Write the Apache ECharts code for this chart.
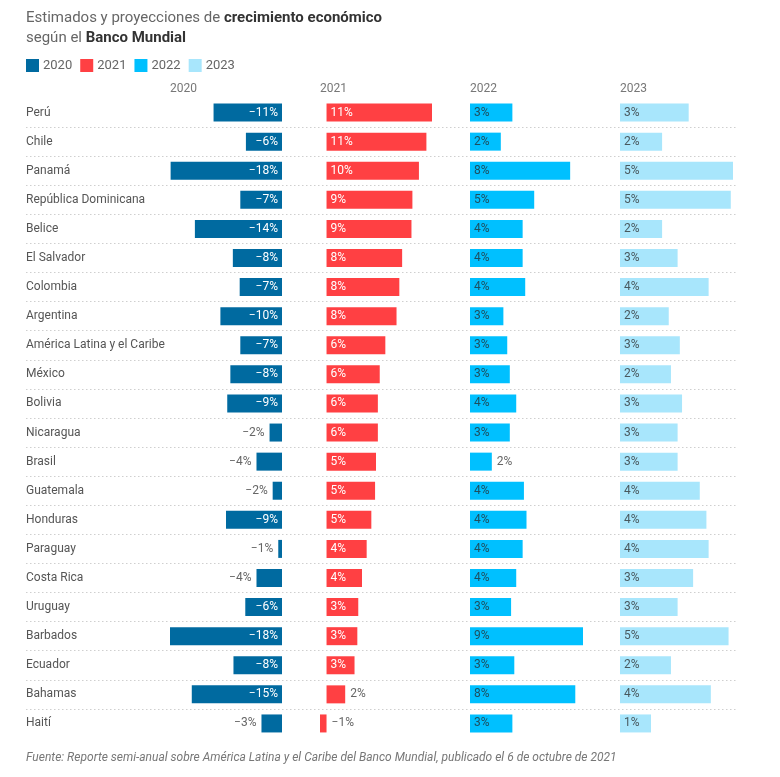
<!DOCTYPE html>
<html>
<head>
<meta charset="utf-8">
<title>Crecimiento económico - Banco Mundial</title>
<script src="https://cdn.jsdelivr.net/npm/echarts@6/dist/echarts.min.js"></script>
<style>
  html, body { margin: 0; padding: 0; background: #fff; }
  #chart-container { width: 780px; height: 777px; }
</style>
</head>
<body>
<div id="chart-container"></div>
<script>
// ---- data ----
var countries = ['Perú', 'Chile', 'Panamá', 'República Dominicana', 'Belice', 'El Salvador',
  'Colombia', 'Argentina', 'América Latina y el Caribe', 'México', 'Bolivia', 'Nicaragua',
  'Brasil', 'Guatemala', 'Honduras', 'Paraguay', 'Costa Rica', 'Uruguay', 'Barbados',
  'Ecuador', 'Bahamas', 'Haití'];
var years = ['2020', '2021', '2022', '2023'];
var growth2020 = [-11.0, -5.8, -17.9, -6.7, -14.0, -7.9, -6.8, -9.9, -6.7, -8.3, -8.8, -2.0,
  -4.1, -1.5, -9.0, -0.6, -4.1, -5.9, -18.0, -7.8, -14.5, -3.3];
var growth2021 = [11.3, 10.7, 9.9, 9.2, 9.1, 8.1, 7.8, 7.5, 6.3, 5.7, 5.5, 5.5,
  5.3, 5.2, 4.8, 4.3, 3.8, 3.4, 3.3, 3.0, 2.0, -0.7];
var growth2022 = [3.3, 2.4, 7.8, 5.0, 4.1, 4.1, 4.3, 2.6, 2.9, 3.1, 3.6, 3.1,
  1.7, 4.2, 4.4, 4.1, 3.6, 3.2, 8.8, 3.45, 8.2, 3.3];
var growth2023 = [3.1, 1.9, 5.1, 5.0, 1.9, 2.6, 4.0, 2.2, 2.7, 2.3, 2.8, 2.6,
  2.6, 3.6, 3.9, 4.0, 3.3, 2.6, 4.9, 2.3, 4.1, 1.4];

var colors = ['#006aa0', '#ff4043', '#00c0ff', '#a8e6fc'];
var labelColors = ['#fff', '#fff', 'rgba(40,40,40,0.75)', 'rgba(40,40,40,0.75)'];

var dom = document.getElementById('chart-container');
var myChart = echarts.init(dom, null, { renderer: 'canvas' });

var allData = [growth2020, growth2021, growth2022, growth2023];
var colLeft = [170, 320, 470, 620];
var colWidth = [112, 112, 113, 113];
var gridTop = 98;
var gridHeight = 640;

function fmt(v) {
  var r = Math.round(Math.abs(v));
  return (v < 0 ? '\u2212' : '') + r + '%';
}

var grids = [], xAxes = [], yAxes = [], series = [];

allData.forEach(function (vals, i) {
  var lo = Math.min(0, Math.min.apply(null, vals));
  var hi = Math.max(0, Math.max.apply(null, vals));
  var range = hi - lo;
  grids.push({ left: colLeft[i], width: colWidth[i], top: gridTop, height: gridHeight });
  xAxes.push({ type: 'value', gridIndex: i, min: lo, max: hi, show: false });
  yAxes.push({ type: 'category', gridIndex: i, data: countries, inverse: true, show: false });
  series.push({
    name: years[i],
    type: 'bar',
    xAxisIndex: i,
    yAxisIndex: i,
    barWidth: 18,
    itemStyle: { color: colors[i] },
    silent: true,
    data: vals.map(function (v) {
      // short bars get their label outside
      var inside = Math.abs(v) / range > 0.24;
      var pos;
      if (inside) pos = v < 0 ? 'insideRight' : 'insideLeft';
      else pos = v < 0 && i === 0 ? 'left' : 'right';
      return {
        value: v,
        label: {
          show: true,
          position: pos,
          distance: inside ? 4 : 5,
          color: inside ? labelColors[i] : '#666',
          fontSize: 12,
          fontFamily: 'Roboto',
          formatter: function () { return fmt(v); }
        }
      };
    })
  });
});

// full-width grid for country names and dotted row separators
grids.push({ left: 26, width: 711, top: gridTop, height: gridHeight });
xAxes.push({ type: 'value', gridIndex: 4, show: false });
yAxes.push({
  type: 'category', gridIndex: 4, data: countries, inverse: true,
  axisLine: { show: false },
  axisTick: { show: false },
  axisLabel: { inside: true, margin: 0, color: '#555', fontSize: 12, fontFamily: 'Roboto' },
  splitLine: {
    show: true, showMinLine: false, showMaxLine: false,
    lineStyle: { color: '#cfcfcf', type: [1.5, 2.5], width: 1 }
  }
});

var titles = [{
  left: 26, top: 8, padding: 0,
  text: '{n|Estimados y proyecciones de }{b|crecimiento económico}\n{n|según el }{b|Banco Mundial}',
  textStyle: {
    fontWeight: 'normal',
    rich: {
      n: { fontSize: 15, color: '#666', fontWeight: 'normal', fontFamily: 'Roboto', lineHeight: 20 },
      b: { fontSize: 15, color: '#333', fontWeight: 'bold', fontFamily: 'Roboto', lineHeight: 20 }
    }
  }
}];
years.forEach(function (y, i) {
  titles.push({
    left: colLeft[i], top: 83, padding: 0, text: y,
    textStyle: { fontSize: 12, color: '#777', fontWeight: 'normal', fontFamily: 'Roboto' }
  });
});
titles.push({
  left: 26, top: 752, padding: 0,
  text: 'Fuente: Reporte semi-anual sobre América Latina y el Caribe del Banco Mundial, publicado el 6 de octubre de 2021',
  textStyle: { fontSize: 12, color: '#777', fontStyle: 'italic', fontWeight: 'normal', fontFamily: 'Roboto' }
});

var option = {
  animation: false,
  title: titles,
  legend: {
    left: 26, top: 59, padding: 0,
    icon: 'rect',
    itemWidth: 13, itemHeight: 13, itemGap: 8,
    selectedMode: false,
    data: years,
    textStyle: { fontSize: 13, color: '#666', fontFamily: 'Roboto', padding: [0, 0, 0, -1] }
  },
  grid: grids,
  xAxis: xAxes,
  yAxis: yAxes,
  series: series
};

myChart.setOption(option);
window.addEventListener('resize', myChart.resize);
</script>
</body>
</html>
